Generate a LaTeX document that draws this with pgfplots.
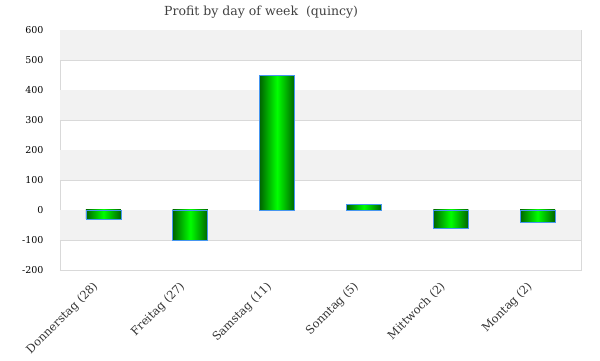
\documentclass[border=0pt]{standalone}
\usepackage{pgfplots}
\pgfplotsset{compat=1.18}
\usepackage{fontspec}
\setmainfont{DejaVu Serif}
\definecolor{dkgreen}{RGB}{0,100,0}
\definecolor{brgreen}{RGB}{0,255,0}
\definecolor{barborder}{RGB}{70,150,240}
\definecolor{band}{RGB}{242,242,242}
\definecolor{gridc}{RGB}{217,217,217}
\pgfplotsset{gbar/.style={ybar, bar shift=0pt, draw=barborder, line width=0.8pt, left color=dkgreen, right color=dkgreen, middle color=brgreen}}
\begin{document}
\begin{tikzpicture}[x=1pt,y=1pt]
\path (-60,-90) rectangle (540,270);
\begin{axis}[
  at={(0,0)}, anchor=south west,
  scale only axis, width=521pt, height=240pt,
  xmin=-0.5, xmax=5.5, ymin=-200, ymax=600,
  ytick={-200,-100,0,100,200,300,400,500,600},
  xtick={0,1,2,3,4,5},
  xticklabels={Donnerstag (28),Freitag (27),Samstag (11),Sonntag (5),Mittwoch (2),Montag (2)},
  xticklabel style={rotate=45, anchor=north east, font=\fontsize{11.5}{13}\selectfont, text=black!80, xshift=-12pt, yshift=4pt},
  yticklabel style={font=\fontsize{9.5}{12}\selectfont, xshift=-13pt},
  /pgf/number format/assume math mode=true,
  major tick length=0pt,
  axis line style={gridc},
  ymajorgrids, grid style={gridc, line width=0.8pt},
  title={Profit by day of week\ \ (quincy)},
  title style={at={(0.386,1)}, anchor=south, yshift=2pt, font=\fontsize{12.5}{15}\selectfont, text=black!75},
  bar width=35pt,
]
\foreach \lo in {500,300,100,-100} {
  \edef\tmp{\noexpand\fill[band] (axis cs:-0.5,\lo) rectangle (axis cs:5.5,\lo+100);}
  \tmp
}
\addplot[gbar] coordinates {(0,-30)};
\addplot[gbar] coordinates {(1,-100)};
\addplot[gbar] coordinates {(2,450)};
\addplot[gbar] coordinates {(3,19)};
\addplot[gbar] coordinates {(4,-60)};
\addplot[gbar] coordinates {(5,-40)};
\end{axis}
\end{tikzpicture}
\end{document}
